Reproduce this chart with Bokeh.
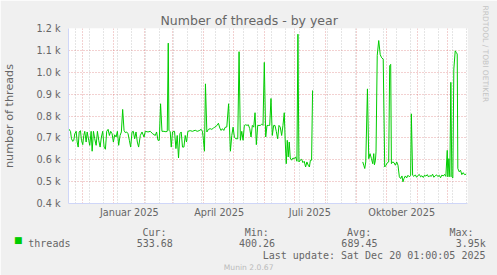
import math
from datetime import date
from bokeh.plotting import figure
from bokeh.models import Range1d, FixedTicker, Grid, Label, ColumnDataSource
from bokeh.embed import file_html
from bokeh.resources import INLINE

nan = float("nan")

# ---------------- data ----------------
ORIGIN = date(2024, 11, 16)   # day 0 of the x axis

days = [
    0, 2, 3, 4.3, 5.3, 6.3, 7.7, 8.7, 9.7, 10.7, 12, 13, 14.3, 15.3, 16.3, 17.7, 18.7,
    20.3, 21.3, 22.7, 23.7, 25, 26.3, 27.7, 29, 30.3, 31.7, 33, 34.3, 35.7, 37, 38.3,
    39.7, 41, 42.3, 43.7, 45, 46.3, 47.7, 49, 50.3, 51.7, 53, 54.3, 55.7, 57, 58.3,
    59.7, 61, 62.3, 63.7, 65, 66.3, 67.7, 69, 70.3, 72, 73.7, 75.7,
    77, 79.7, 82, 84.3, 87, 88.3, 89.7, 91, 92.3, 93.7, 95.7, 97.7, 99, 100, 100.7,
    102, 103, 104.3, 106.3, 107.7, 109, 110.3, 111.7, 113, 114.3, 115.7, 117, 118.3,
    119.7, 122, 124.3, 127, 129, 131, 133, 134.3, 135.3, 136.3, 137.3, 138.7, 140.3,
    142, 143.7, 145.3, 146.7, 148.7, 150.3, 151.7, 153, 154.3, 155.7, 157, 158.7,
    160.5, 162.3, 163.7, 165, 166.3, 167.7, 169.7, 171, 172.3, 173.7, 175, 176.3,
    177.7, 179, 180.3, 181.7, 183, 184.3, 185.7, 187, 188.3, 189.7, 191, 192.3, 193.7,
    195, 196.3, 197.7, 199, 200.3, 201.7, 203, 204.3, 205.7, 207, 208.3, 209.7, 211,
    212.3, 213.7, 215, 216.3, 217.3, 218.3, 219.3, 220.3, 221.3, 222.3, 223.7, 225,
    226.3, 227.7, 229, 230, 231, 232.3, 233.7, 235, 236.3, 237.7, 239, 240.3, 241.5,
    242.5, 243.7, 244.7, 270,
    295, 296, 297, 298, 299.7, 301, 302.3, 303.7, 305, 306, 306.7, 307.7, 308.3, 309.5,
    311, 312.5, 314, 315.5, 317, 318.3, 319.7, 321, 322, 323, 323.7, 325, 326.3, 327.7,
    329, 330.3, 331.7, 333, 334.3, 335.3, 336.3, 337.7, 339, 340.3, 341.7, 343, 343.7,
    345, 346.3, 347.7, 349, 350.3, 351.7, 353, 354.3, 355.7, 357, 358.3, 359.7, 361,
    362.3, 363.7, 365, 366.3, 367.7, 369, 370.3, 371.7, 373, 374.3, 375.7, 377, 378.3,
    379.7, 380.3, 381.3, 382.3, 383.3, 384.3, 385.3, 386.3, 387.7, 388.7, 389.7, 390.3,
    391.7, 393, 394.3, 395.7, 397, 398.7,
]

threads = [
    742, 730, 696, 684, 689, 719, 730, 681, 658, 727, 733, 689, 669, 711, 730, 681, 727,
    689, 666, 730, 639, 730, 696, 666, 730, 689, 658, 704, 730, 658, 648, 730,
    739, 711, 730, 719, 681, 714, 704, 730, 666, 711, 727, 830, 734, 724, 727,
    719, 689, 658, 727, 730, 696, 727, 681, 658, 711, 727, 704,
    730, 727, 730, 719, 711, 727, 689, 689, 856, 730, 730, 728, 730, 1133, 735,
    728, 658, 727, 730, 651, 711, 608, 719, 727, 658, 658, 711, 681,
    730, 733, 730, 735, 730, 733, 739, 730, 689, 639, 947, 727, 739,
    742, 739, 745, 749, 756, 767, 745, 734, 742, 734, 748, 750,
    856, 639, 711, 749, 704, 696, 696, 1094, 689, 730, 689, 757,
    760, 757, 760, 742, 704, 757, 749, 815, 669, 757, 757, 757, 763,
    757, 1045, 704, 757, 757, 757, 880, 711, 757, 757, 730, 696, 757,
    749, 711, 757, 815, 681, 582, 689, 613, 681, 608, 598, 608,
    605, 613, 593, 1174, 590, 598, 602, 587, 593, 567, 590, 575, 567,
    598, 598, 917, nan,
    590, 575, 560, 590, 924, 605, 628, 605, 582, 628, 577, 598, 636, 1077,
    1145, 1080, 1066, 1060, 567, 575, 587, 590, 1030, 1036, 582, 590, 587, 575,
    590, 575, 522, 514, 526, 499, 514, 526, 517, 529, 522, 529, 810,
    529, 524, 531, 520, 528, 533, 522, 527, 519, 530, 525, 532, 521,
    528, 524, 534, 520, 527, 531, 523, 529, 518, 530, 526, 533, 524,
    643, 522, 605, 522, 954, 522, 517, 1015, 1098, 1091, 1083, 560,
    545, 552, 532, 541, 532, 534,
]

y_ticks = [400, 500, 600, 700, 800, 900, 1000, 1100, 1200]
y_tick_labels = ["0.4 k", "0.5 k", "0.6 k", "0.7 k", "0.8 k", "0.9 k", "1.0 k", "1.1 k", "1.2 k"]

grid_months = [(2024, 12), (2025, 1), (2025, 2), (2025, 3), (2025, 4), (2025, 5), (2025, 6),
               (2025, 7), (2025, 8), (2025, 9), (2025, 10), (2025, 11), (2025, 12)]
label_months = [(2025, 1), (2025, 4), (2025, 7), (2025, 10)]
x_tick_labels = ["Januar 2025", "April 2025", "Juli 2025", "Oktober 2025"]

series_name = "threads"
legend_heads = ["Cur:", "Min:", "Avg:", "Max:"]
legend_values = ["533.68", "400.26", "689.45", "3.95k"]
last_update = "Last update: Sat Dec 20 01:00:05 2025"

# ---------------- derived positions ----------------
def dnum(y, m, d=1):
    return (date(y, m, d) - ORIGIN).days

month_lines = [dnum(y, m) - 0.5 for y, m in grid_months]
label_pos = [dnum(y, m) + 15 for y, m in label_months]
minor_lines = [7.3 + 14 * k for k in range(29) if 7.3 + 14 * k < 400]

W, H = 497, 275
FL, FT, FW, FH = 67, 28, 400, 175
def dx(px):
    return (px - FL) * 400.0 / FW
def dy(py):
    return 1200 - (py - FT) * 800.0 / FH

FONT = "#666666"
AXIS = "#CFD6F8"
MGRID = "#C83232"
GREEN = "#00CC00"
BACK = "#F0F0F0"

p = figure(width=W, height=H, output_backend="svg", toolbar_location=None,
           x_range=Range1d(0, 400), y_range=Range1d(400, 1200),
           min_border_left=FL, min_border_right=W - FL - FW, min_border_top=FT,
           min_border_bottom=H - FT - FH,
           background_fill_color="white", border_fill_color=BACK,
           outline_line_color=None)

# title
p.title.text = "Number of threads - by year"
p.title.text_font = "DejaVu Sans"
p.title.text_font_size = "12.5px"
p.title.text_font_style = "normal"
p.title.text_color = FONT
p.title.align = "left"
p.title.offset = 92
p.title.standoff = 2

# y axis
p.yaxis.ticker = FixedTicker(ticks=y_ticks)
p.yaxis.major_label_overrides = {t: s for t, s in zip(y_ticks, y_tick_labels)}
p.yaxis.major_label_text_font = "DejaVu Sans"
p.yaxis.major_label_text_font_size = "9.7px"
p.yaxis.major_label_text_color = FONT
p.yaxis.major_tick_line_color = None
p.yaxis.minor_tick_line_color = None
p.yaxis.major_tick_out = 0
p.yaxis.major_tick_in = 0
p.yaxis.minor_tick_out = 0
p.yaxis.minor_tick_in = 0
p.yaxis.major_label_standoff = 8
p.yaxis.axis_line_color = AXIS
p.yaxis.axis_label = "number of threads"
p.yaxis.axis_label_text_font = "DejaVu Sans"
p.yaxis.axis_label_text_font_size = "11.2px"
p.yaxis.axis_label_text_font_style = "normal"
p.yaxis.axis_label_text_color = FONT
p.yaxis.axis_label_standoff = 17

# x axis
p.xaxis.ticker = FixedTicker(ticks=label_pos)
p.xaxis.major_label_overrides = {t: s for t, s in zip(label_pos, x_tick_labels)}
p.xaxis.major_label_text_font = "DejaVu Sans"
p.xaxis.major_label_text_font_size = "9.7px"
p.xaxis.major_label_text_color = FONT
p.xaxis.major_tick_line_color = None
p.xaxis.minor_tick_line_color = None
p.xaxis.major_tick_out = 0
p.xaxis.major_tick_in = 0
p.xaxis.minor_tick_out = 0
p.xaxis.minor_tick_in = 0
p.xaxis.major_label_standoff = 3
p.xaxis.axis_line_color = AXIS

# grids
p.ygrid.ticker = FixedTicker(ticks=y_ticks)
p.ygrid.grid_line_color = MGRID
p.ygrid.grid_line_alpha = 0.45
p.ygrid.grid_line_dash = "1 2"
p.xgrid.ticker = FixedTicker(ticks=month_lines)
p.xgrid.grid_line_color = MGRID
p.xgrid.grid_line_alpha = 0.45
p.xgrid.grid_line_dash = "1 2"
p.add_layout(Grid(dimension=0, ticker=FixedTicker(ticks=minor_lines),
                  grid_line_color="#8C8C8C", grid_line_alpha=0.45, grid_line_dash="1 2",
                  level="underlay"))

# data
src = ColumnDataSource(dict(day=days, threads=threads))
p.line("day", "threads", source=src, line_color=GREEN, line_width=1)

# ---------------- legend (monospace columns; positions in page pixels) ----------------
NB = "\u00a0"
CH = 6.02          # advance of one DejaVu Sans Mono character at 10px
COL0 = 26.7        # page x of column 0

def row(items):
    s = ""
    for col, t in items:
        s += NB * (col - len(s)) + t
    return s

head_row = row([(0, legend_heads[0]), (17, legend_heads[1]),
                (34, legend_heads[2]), (51, legend_heads[3])])
value_row = row([(0, series_name), (18, legend_values[0]), (35, legend_values[1]),
                 (52, legend_values[2]), (71, legend_values[3])])

mono = dict(text_font="DejaVu Sans Mono", text_font_size="10px", text_color=FONT,
            text_baseline="alphabetic", text_align="left")
p.add_layout(Label(x=dx(COL0 + 19 * CH), y=dy(231.5), text=head_row, **mono), "below")
p.add_layout(Label(x=dx(COL0), y=dy(243), text=value_row, **mono), "below")
p.add_layout(Label(x=dx(261.7), y=dy(255), text=last_update, **mono), "below")
p.add_layout(Label(x=dx(222.7), y=dy(266.5), text="Munin 2.0.67",
                   text_font="DejaVu Sans", text_font_size="7.6px", text_color="#BBBBBB",
                   text_baseline="alphabetic", text_align="left"), "below")

# legend colour swatch
p.add_layout(Label(x=dx(16.7), y=dy(239.2), text="\u25a0", text_font="DejaVu Sans",
                   text_font_size="9px", text_color=GREEN,
                   text_baseline="middle", text_align="center"), "right")

p.add_layout(Label(x=dx(485), y=dy(5), text="RRDTOOL / TOBI OETIKER", angle=-math.pi / 2,
                   text_font="DejaVu Sans", text_font_size="7.5px", text_color="#C4C4C4",
                   text_baseline="alphabetic", text_align="left"), "right")

open("out.html", "w").write(file_html(p, INLINE))
